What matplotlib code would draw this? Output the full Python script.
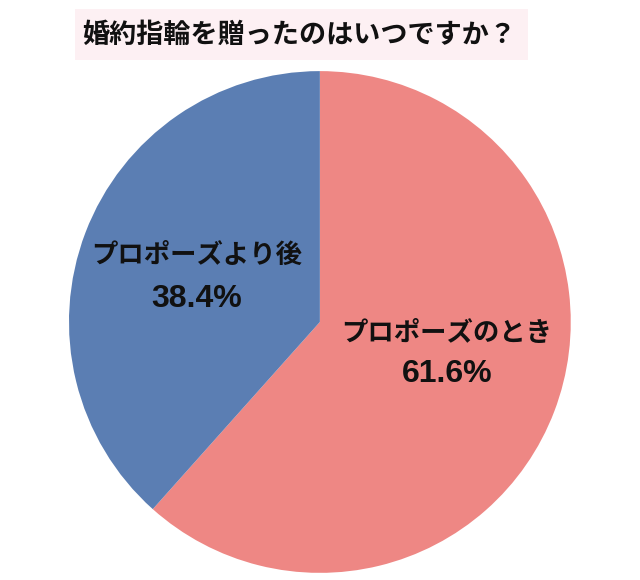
import matplotlib.pyplot as plt
from matplotlib.patches import Rectangle

title = "婚約指輪を贈ったのはいつですか？"
labels = ["プロポーズのとき", "プロポーズより後"]
values = [61.6, 38.4]
colors = ["#EE8784", "#5B7EB3"]

plt.rcParams["font.family"] = ["Noto Sans CJK JP", "DejaVu Sans"]

fig = plt.figure(figsize=(6.4, 5.8), dpi=100)
fig.patch.set_facecolor("white")

# title box
fig.patches.append(Rectangle((0.117, 0.8966), 0.708, 0.088, transform=fig.transFigure,
                             facecolor="#FDF0F3", edgecolor="none", zorder=0))
fig.text(0.468, 0.94, title, ha="center", va="center", fontsize=19.5,
         fontweight="bold", color="#111111")

ax = fig.add_axes([0.1078, 0.0121, 0.784, 0.8655])
ax.pie(values, colors=colors, startangle=90, counterclock=False, radius=1,
       wedgeprops=dict(linewidth=0))
ax.set_xlim(-1, 1)
ax.set_ylim(-1, 1)
ax.set_aspect("equal")
ax.axis("off")

# label positions (data coords)
pos = [(0.506, -0.044, -0.207), (-0.49, 0.267, 0.092)]
for (lab, v), (x, y1, y2) in zip(zip(labels, values), pos):
    ax.text(x, y1, lab, ha="center", va="center", fontsize=19, fontweight="bold", color="#111111")
    ax.text(x, y2, f"{v}%", ha="center", va="center", fontsize=23, fontweight="bold",
            color="#111111", family=["Liberation Sans", "DejaVu Sans"])

fig.savefig("out.png", dpi=100)
